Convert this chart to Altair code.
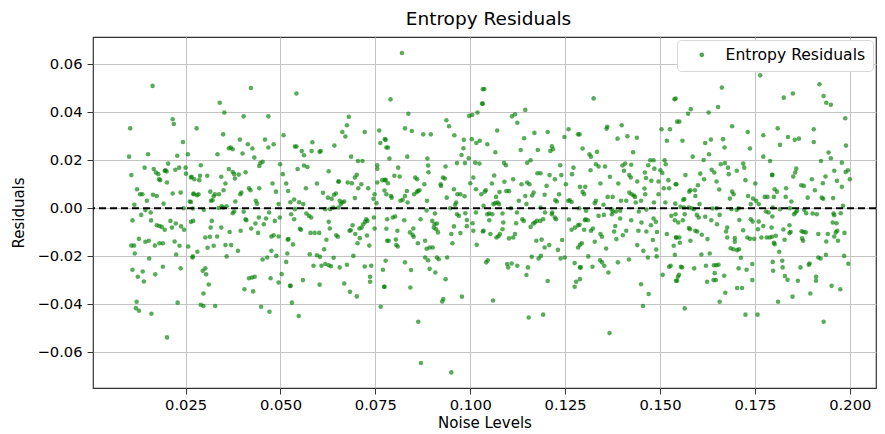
import altair as alt
import pandas as pd

# ---- data (Noise Level, Residual) ----
x_seg1 = [0.0163,0.0216,0.0219,0.0104,0.0243,0.0101,0.0151,0.0228,0.0256,0.0142,0.0166,0.0172,0.0178,0.0197,0.0204,0.0195,0.0200,0.0223,0.0233,0.0250,
          0.0107,0.0180,0.0183,0.0201,0.0251,0.0264,0.0122,0.0130,0.0136,0.0164,0.0174,0.0216,0.0237,0.0271,0.0115,0.0148,0.0192,0.0261,0.0245,0.0269,
          0.0144,0.0133,0.0158,0.0110,0.0159,0.0174,0.0181,0.0187,0.0195,0.0210,0.0214,0.0224,0.0238,0.0246,0.0264,0.0127,0.0144,0.0153,0.0169,0.0181,
          0.0190,0.0221,0.0234,0.0107,0.0114,0.0257,0.0116,0.0225,0.0268,0.0154,0.0110,0.0124,0.0137,0.0140,0.0170,0.0190,0.0237,0.0121,0.0119,0.0127,
          0.0160,0.0229,0.0201]
y_seg1 = [0.0510,0.0371,0.0351,0.0333,0.0276,0.0215,0.0225,0.0219,0.0225,0.0169,0.0163,0.0149,0.0142,0.0158,0.0186,0.0156,0.0153,0.0160,0.0169,0.0169,
          0.0138,0.0121,0.0117,0.0107,0.0144,0.0128,0.0079,0.0058,0.0058,0.0056,0.0051,0.0061,0.0065,0.0058,0.0014,0.0031,0.0019,0.0028,0.0000,-0.0001,
          -0.0008,-0.0028,-0.0018,-0.0051,-0.0051,-0.0071,-0.0074,-0.0078,-0.0090,-0.0053,-0.0081,-0.0064,-0.0076,-0.0090,-0.0057,-0.0128,-0.0140,-0.0136,-0.0156,-0.0146,
          -0.0146,-0.0139,-0.0157,-0.0156,-0.0156,-0.0160,-0.0189,-0.0193,-0.0206,-0.0210,-0.0257,-0.0286,-0.0264,-0.0306,-0.0276,-0.0244,-0.0251,-0.0390,-0.0417,-0.0428,
          -0.0440,-0.0394,-0.0539]

x_seg2 = [0.0422,0.0340,0.0352,0.0403,0.0468,0.0279,0.0349,0.0508,0.0393,0.0459,0.0414,0.0482,0.0364,0.0369,0.0374,0.0426,0.0468,0.0334,0.0400,0.0431,
          0.0447,0.0444,0.0453,0.0499,0.0290,0.0364,0.0374,0.0378,0.0390,0.0408,0.0506,0.0266,0.0273,0.0286,0.0288,0.0307,0.0344,0.0380,0.0479,0.0515,
          0.0355,0.0417,0.0421,0.0444,0.0488,0.0271,0.0280,0.0284,0.0315,0.0324,0.0327,0.0350,0.0338,0.0394,0.0397,0.0264,0.0317,0.0321,0.0381,0.0435,
          0.0438,0.0345,0.0337,0.0349,0.0358,0.0298,0.0378,0.0374,0.0403,0.0470,0.0495,0.0408,0.0410,0.0443,0.0462,0.0485,0.0270,0.0319,0.0434,0.0456,
          0.0498,0.0316,0.0344,0.0395,0.0366,0.0423,0.0441,0.0476,0.0482,0.0495,0.0519,0.0302,0.0314,0.0333,0.0355,0.0370,0.0388,0.0324,0.0308,0.0281,
          0.0269,0.0358,0.0476,0.0489,0.0465,0.0453,0.0515,0.0295,0.0302,0.0304,0.0311,0.0297,0.0417,0.0425,0.0432,0.0474,0.0503,0.0495,0.0525,0.0405,
          0.0428,0.0290,0.0297,0.0328,0.0449,0.0471]
y_seg2 = [0.0501,0.0440,0.0399,0.0383,0.0383,0.0333,0.0308,0.0304,0.0286,0.0286,0.0267,0.0267,0.0250,0.0253,0.0246,0.0249,0.0253,0.0225,0.0228,0.0211,
          0.0188,0.0176,0.0194,0.0183,0.0179,0.0163,0.0151,0.0142,0.0140,0.0150,0.0142,0.0131,0.0121,0.0117,0.0135,0.0135,0.0131,0.0124,0.0103,0.0103,
          0.0103,0.0083,0.0075,0.0083,0.0069,0.0061,0.0054,0.0058,0.0069,0.0050,0.0058,0.0075,0.0058,0.0058,0.0065,0.0026,0.0031,0.0033,0.0028,0.0031,
          0.0019,0.0008,0.0001,0.0003,0.0008,-0.0007,-0.0014,-0.0021,-0.0015,-0.0018,0.0017,-0.0046,-0.0050,-0.0039,-0.0043,-0.0053,-0.0053,-0.0053,-0.0064,-0.0067,
          -0.0039,-0.0081,-0.0081,-0.0094,-0.0099,-0.0085,-0.0103,-0.0118,-0.0113,-0.0118,-0.0131,-0.0122,-0.0119,-0.0118,-0.0154,-0.0154,-0.0178,-0.0157,-0.0165,-0.0182,
          -0.0201,-0.0201,-0.0178,-0.0199,-0.0206,-0.0214,-0.0224,-0.0261,-0.0251,-0.0276,-0.0318,-0.0356,-0.0292,-0.0289,-0.0286,-0.0292,-0.0275,-0.0310,-0.0324,-0.0338,
          -0.0347,-0.0403,-0.0408,-0.0408,-0.0411,-0.0432]

x_seg3 = [0.0542,0.0680,0.0675,0.0663,0.0671,0.0722,0.0760,0.0775,0.0763,0.0779,0.0538,0.0542,0.0556,0.0562,0.0584,0.0582,0.0603,0.0606,0.0642,0.0686,
          0.0704,0.0716,0.0755,0.0545,0.0562,0.0571,0.0627,0.0701,0.0696,0.0755,0.0755,0.0768,0.0775,0.0653,0.0653,0.0677,0.0688,0.0713,0.0596,0.0567,
          0.0705,0.0731,0.0612,0.0646,0.0641,0.0625,0.0635,0.0520,0.0536,0.0526,0.0549,0.0656,0.0663,0.0668,0.0696,0.0745,0.0748,0.0753,0.0774,0.0779,
          0.0560,0.0618,0.0631,0.0639,0.0653,0.0659,0.0538,0.0528,0.0568,0.0575,0.0581,0.0536,0.0627,0.0726,0.0729,0.0746,0.0551,0.0554,0.0630,0.0690,
          0.0682,0.0685,0.0708,0.0718,0.0723,0.0714,0.0748,0.0779,0.0579,0.0590,0.0602,0.0647,0.0651,0.0697,0.0728,0.0709,0.0621,0.0521,0.0533,0.0703,
          0.0734,0.0781,0.0615,0.0577,0.0596,0.0604,0.0587,0.0608,0.0618,0.0627,0.0633,0.0640,0.0692,0.0675,0.0656,0.0722,0.0739,0.0736,0.0736,0.0770,
          0.0773,0.0518,0.0559,0.0527,0.0603,0.0668,0.0683,0.0701,0.0530,0.0548,0.0764]
y_seg3 = [0.0478,0.0381,0.0346,0.0318,0.0299,0.0318,0.0324,0.0288,0.0272,0.0253,0.0257,0.0257,0.0238,0.0221,0.0275,0.0238,0.0235,0.0238,0.0261,0.0215,
          0.0197,0.0197,0.0179,0.0163,0.0178,0.0172,0.0154,0.0139,0.0128,0.0164,0.0107,0.0117,0.0117,0.0111,0.0111,0.0107,0.0104,0.0100,0.0103,0.0083,
          0.0083,0.0083,0.0064,0.0061,0.0056,0.0044,0.0039,0.0072,0.0036,0.0025,0.0025,0.0031,0.0025,0.0028,0.0042,0.0039,0.0058,0.0021,0.0074,0.0058,
          0.0017,-0.0004,-0.0004,0.0003,0.0003,0.0017,-0.0004,-0.0025,-0.0022,-0.0032,-0.0039,-0.0046,-0.0057,-0.0046,-0.0053,-0.0039,-0.0086,-0.0090,-0.0085,-0.0071,
          -0.0094,-0.0092,-0.0085,-0.0067,-0.0057,-0.0081,-0.0085,-0.0086,-0.0103,-0.0103,-0.0103,-0.0113,-0.0119,-0.0108,-0.0114,-0.0125,-0.0132,-0.0129,-0.0151,-0.0146,
          -0.0156,-0.0136,-0.0171,-0.0192,-0.0196,-0.0203,-0.0240,-0.0240,-0.0233,-0.0238,-0.0242,-0.0207,-0.0199,-0.0236,-0.0247,-0.0243,-0.0240,-0.0286,-0.0307,-0.0257,
          -0.0328,-0.0189,-0.0300,-0.0324,-0.0319,-0.0314,-0.0349,-0.0368,-0.0394,-0.0450,-0.0411]

x_seg4 = [0.0820,0.1033,0.0790,0.1031,0.0837,0.0937,0.0944,0.0997,0.1005,0.1019,0.0828,0.0846,0.0876,0.0896,0.0958,0.0983,0.1004,0.1016,0.1025,0.0777,
          0.0783,0.0982,0.0977,0.0834,0.0787,0.0887,0.0996,0.0889,0.0965,0.0986,0.1013,0.1024,0.0935,0.0810,0.0890,0.0800,0.0814,0.0855,0.0860,0.0928,
          0.0933,0.1008,0.0777,0.0783,0.0879,0.0922,0.0923,0.1000,0.1015,0.0957,0.0862,0.0866,0.0859,0.0852,0.0791,0.0793,0.0828,0.0833,0.0966,0.0974,
          0.0985,0.1029,0.0816,0.0822,0.0835,0.0886,0.0938,0.0963,0.0960,0.0947,0.0885,0.0907,0.0965,0.0970,0.0987,0.1015,0.0796,0.0802,0.0781,0.0826,
          0.0869,0.0900,0.0906,0.0991,0.1006,0.0912,0.0915,0.0904,0.0910,0.0991,0.0957,0.1008,0.1033,0.0808,0.0841,0.0848,0.0851,0.0850,0.0950,0.0974,
          0.0785,0.0804,0.0805,0.0809,0.0862,0.0881,0.0885,0.0893,0.0901,0.0953,0.1017,0.0881,0.0889,0.0912,0.0917,0.0939,0.0828,0.0844,0.0893,0.0908,
          0.0935,0.0842,0.0929,0.0926,0.0978,0.0774,0.0777,0.0863,0.0870,0.0950]
y_seg4 = [0.0647,0.0496,0.0454,0.0436,0.0394,0.0367,0.0342,0.0385,0.0389,0.0399,0.0333,0.0322,0.0308,0.0308,0.0304,0.0285,0.0288,0.0272,0.0281,0.0285,
          0.0253,0.0250,0.0222,0.0215,0.0207,0.0207,0.0208,0.0178,0.0188,0.0188,0.0190,0.0186,0.0174,0.0169,0.0150,0.0135,0.0132,0.0128,0.0121,0.0128,
          0.0124,0.0128,0.0118,0.0104,0.0100,0.0100,0.0093,0.0104,0.0079,0.0079,0.0072,0.0075,0.0067,0.0058,0.0051,0.0044,0.0051,0.0072,0.0058,0.0058,
          0.0050,0.0058,0.0031,0.0035,0.0024,0.0031,0.0044,0.0024,0.0014,0.0000,-0.0010,-0.0022,-0.0025,-0.0032,-0.0021,-0.0018,-0.0039,-0.0035,-0.0046,-0.0050,
          -0.0046,-0.0053,-0.0067,-0.0049,-0.0063,-0.0064,-0.0101,-0.0081,-0.0088,-0.0075,-0.0076,-0.0094,-0.0097,-0.0094,-0.0101,-0.0111,-0.0119,-0.0085,-0.0108,-0.0104,
          -0.0136,-0.0131,-0.0154,-0.0160,-0.0146,-0.0136,-0.0169,-0.0164,-0.0164,-0.0146,-0.0153,-0.0206,-0.0217,-0.0206,-0.0213,-0.0206,-0.0226,-0.0258,-0.0253,-0.0268,
          -0.0296,-0.0331,-0.0379,-0.0389,-0.0369,-0.0328,-0.0219,-0.0474,-0.0646,-0.0685]

x_seg5 = [0.1037,0.1033,0.1110,0.1118,0.1124,0.1145,0.1071,0.1169,0.1204,0.1259,0.1248,0.1284,0.1142,0.1045,0.1066,0.1133,0.1178,0.1215,0.1218,0.1211,
          0.1159,0.1150,0.1089,0.1094,0.1237,0.1272,0.1177,0.1185,0.1063,0.1090,0.1113,0.1135,0.1150,0.1156,0.1209,0.1223,0.1240,0.1268,0.1057,0.1041,
          0.1038,0.1201,0.1252,0.1289,0.1077,0.1068,0.1095,0.1102,0.1167,0.1163,0.1128,0.1145,0.1196,0.1234,0.1228,0.1224,0.1258,0.1267,0.1262,0.1061,
          0.1066,0.1072,0.1076,0.1035,0.1107,0.1148,0.1185,0.1050,0.1058,0.1045,0.1085,0.1123,0.1197,0.1216,0.1215,0.1223,0.1226,0.1137,0.1141,0.1050,
          0.1087,0.1121,0.1166,0.1170,0.1175,0.1184,0.1159,0.1192,0.1260,0.1276,0.1284,0.1267,0.1085,0.1078,0.1069,0.1074,0.1035,0.1053,0.1102,0.1113,
          0.1118,0.1174,0.1188,0.1208,0.1196,0.1242,0.1231,0.1284,0.1162,0.1186,0.1180,0.1238,0.1249,0.1046,0.1042,0.1097,0.1100,0.1109,0.1124,0.1152,
          0.1148,0.1204,0.1275,0.1289,0.1279,0.1275,0.1060,0.1154,0.1192]
y_seg5 = [0.0497,0.0436,0.0383,0.0392,0.0356,0.0410,0.0324,0.0314,0.0318,0.0329,0.0297,0.0308,0.0292,0.0267,0.0233,0.0243,0.0243,0.0258,0.0246,0.0239,
          0.0200,0.0189,0.0189,0.0179,0.0179,0.0169,0.0146,0.0146,0.0136,0.0110,0.0121,0.0100,0.0107,0.0100,0.0138,0.0121,0.0138,0.0142,0.0103,0.0075,
          0.0069,0.0093,0.0100,0.0089,0.0067,0.0047,0.0072,0.0071,0.0065,0.0053,0.0031,0.0051,0.0056,0.0058,0.0028,0.0033,0.0031,0.0026,0.0033,0.0017,
          0.0021,0.0024,0.0017,0.0010,0.0000,0.0017,0.0003,-0.0022,-0.0025,-0.0025,-0.0022,-0.0018,-0.0018,-0.0018,-0.0025,-0.0039,-0.0046,-0.0046,-0.0053,-0.0050,
          -0.0060,-0.0063,-0.0064,-0.0060,-0.0053,-0.0053,-0.0078,-0.0046,-0.0047,-0.0081,-0.0071,-0.0090,-0.0088,-0.0108,-0.0122,-0.0117,-0.0094,-0.0108,-0.0126,-0.0122,
          -0.0108,-0.0136,-0.0131,-0.0154,-0.0164,-0.0133,-0.0174,-0.0164,-0.0203,-0.0199,-0.0210,-0.0210,-0.0206,-0.0217,-0.0226,-0.0233,-0.0247,-0.0231,-0.0240,-0.0247,
          -0.0279,-0.0304,-0.0229,-0.0247,-0.0307,-0.0328,-0.0385,-0.0456,-0.0444]

x_seg6 = [0.1325,0.1538,0.1359,0.1361,0.1399,0.1388,0.1414,0.1439,0.1504,0.1526,0.1518,0.1545,0.1288,0.1296,0.1314,0.1318,0.1334,0.1429,0.1331,0.1338,
          0.1355,0.1401,0.1408,0.1424,0.1474,0.1483,0.1512,0.1515,0.1469,0.1317,0.1405,0.1485,0.1501,0.1506,0.1368,0.1419,0.1423,0.1440,0.1460,0.1463,
          0.1477,0.1496,0.1522,0.1541,0.1343,0.1390,0.1303,0.1296,0.1300,0.1419,0.1425,0.1431,0.1434,0.1362,0.1375,0.1459,0.1461,0.1496,0.1510,0.1524,
          0.1331,0.1328,0.1351,0.1397,0.1411,0.1436,0.1450,0.1484,0.1514,0.1540,0.1287,0.1372,0.1376,0.1384,0.1395,0.1305,0.1310,0.1338,0.1352,0.1444,
          0.1464,0.1530,0.1483,0.1489,0.1373,0.1395,0.1302,0.1304,0.1288,0.1382,0.1424,0.1451,0.1539,0.1300,0.1318,0.1323,0.1379,0.1411,0.1443,0.1464,
          0.1476,0.1492,0.1518,0.1343,0.1347,0.1402,0.1385,0.1481,0.1543,0.1294,0.1289,0.1328,0.1358,0.1440,0.1456,0.1490,0.1536,0.1539,0.1311,0.1418,
          0.1468,0.1491,0.1342,0.1347,0.1353,0.1322,0.1389,0.1291,0.1364,0.1289,0.1524,0.1528,0.1507,0.1547,0.1542,0.1450,0.1470,0.1455,0.1367]
y_seg6 = [0.0458,0.0454,0.0332,0.0340,0.0346,0.0290,0.0300,0.0294,0.0329,0.0329,0.0281,0.0361,0.0308,0.0249,0.0225,0.0215,0.0235,0.0233,0.0183,0.0174,
          0.0174,0.0178,0.0186,0.0181,0.0200,0.0200,0.0200,0.0183,0.0179,0.0158,0.0156,0.0165,0.0158,0.0147,0.0131,0.0138,0.0128,0.0111,0.0149,0.0126,
          0.0114,0.0111,0.0117,0.0100,0.0103,0.0103,0.0089,0.0068,0.0058,0.0065,0.0058,0.0053,0.0047,0.0047,0.0047,0.0082,0.0058,0.0058,0.0083,0.0083,
          0.0031,0.0021,0.0014,0.0031,0.0031,0.0024,0.0031,0.0024,0.0024,0.0019,0.0000,-0.0004,-0.0014,-0.0014,-0.0011,-0.0011,-0.0050,-0.0032,-0.0028,-0.0014,
          -0.0006,-0.0032,-0.0043,-0.0057,-0.0025,-0.0043,-0.0050,-0.0046,-0.0069,-0.0074,-0.0050,-0.0060,-0.0050,-0.0090,-0.0094,-0.0085,-0.0097,-0.0094,-0.0094,-0.0097,
          -0.0071,-0.0099,-0.0108,-0.0108,-0.0119,-0.0113,-0.0129,-0.0133,-0.0122,-0.0146,-0.0153,-0.0140,-0.0168,-0.0154,-0.0178,-0.0172,-0.0157,-0.0194,-0.0201,-0.0214,
          -0.0206,-0.0201,-0.0217,-0.0226,-0.0240,-0.0244,-0.0226,-0.0247,-0.0268,-0.0296,-0.0244,-0.0240,-0.0278,-0.0286,-0.0303,-0.0317,-0.0358,-0.0408,-0.0521]

x_seg7 = [0.1764,0.1663,0.1541,0.1581,0.1574,0.1628,0.1653,0.1551,0.1690,0.1731,0.1772,0.1559,0.1619,0.1634,0.1666,0.1670,0.1737,0.1586,0.1629,0.1772,
          0.1615,0.1660,0.1671,0.1679,0.1719,0.1790,0.1606,0.1636,0.1643,0.1702,0.1722,0.1567,0.1616,0.1649,0.1681,0.1725,0.1751,0.1795,0.1543,0.1600,
          0.1592,0.1577,0.1580,0.1656,0.1690,0.1694,0.1684,0.1732,0.1745,0.1753,0.1776,0.1783,0.1564,0.1561,0.1593,0.1604,0.1739,0.1760,0.1800,0.1554,
          0.1563,0.1576,0.1583,0.1589,0.1638,0.1649,0.1688,0.1702,0.1707,0.1779,0.1786,0.1541,0.1565,0.1560,0.1597,0.1602,0.1619,0.1635,0.1657,0.1548,
          0.1650,0.1709,0.1739,0.1744,0.1760,0.1772,0.1794,0.1576,0.1579,0.1593,0.1598,0.1677,0.1674,0.1719,0.1758,0.1542,0.1551,0.1610,0.1625,0.1677,
          0.1697,0.1737,0.1748,0.1767,0.1781,0.1789,0.1795,0.1800,0.1730,0.1580,0.1552,0.1686,0.1693,0.1697,0.1703,0.1708,0.1609,0.1631,0.1743,0.1713,
          0.1797,0.1555,0.1558,0.1590,0.1621,0.1642,0.1648,0.1654,0.1728,0.1707,0.1550,0.1545,0.1644,0.1669,0.1624,0.1641,0.1647,0.1743,0.1703,0.1716,
          0.1672,0.1657,0.1565,0.1725,0.1757]
y_seg7 = [0.0554,0.0503,0.0457,0.0413,0.0394,0.0399,0.0422,0.0361,0.0342,0.0318,0.0304,0.0281,0.0272,0.0286,0.0288,0.0253,0.0249,0.0215,0.0225,0.0215,
          0.0201,0.0183,0.0188,0.0169,0.0186,0.0197,0.0144,0.0160,0.0149,0.0156,0.0169,0.0138,0.0121,0.0111,0.0142,0.0117,0.0103,0.0138,0.0100,0.0096,
          0.0075,0.0069,0.0075,0.0078,0.0069,0.0058,0.0040,0.0051,0.0040,0.0031,0.0047,0.0047,0.0038,0.0035,0.0051,0.0017,0.0017,0.0017,0.0047,0.0006,
          0.0003,0.0003,0.0000,-0.0004,-0.0001,0.0000,-0.0004,-0.0007,0.0000,-0.0014,-0.0018,-0.0025,-0.0025,-0.0050,-0.0028,-0.0039,-0.0036,-0.0050,-0.0028,-0.0060,
          -0.0067,-0.0049,-0.0046,-0.0056,-0.0056,-0.0074,-0.0081,-0.0083,-0.0088,-0.0094,-0.0097,-0.0081,-0.0097,-0.0092,-0.0088,-0.0122,-0.0122,-0.0111,-0.0129,-0.0122,
          -0.0125,-0.0128,-0.0128,-0.0122,-0.0122,-0.0122,-0.0119,-0.0144,-0.0122,-0.0136,-0.0144,-0.0167,-0.0171,-0.0140,-0.0175,-0.0171,-0.0193,-0.0189,-0.0233,-0.0207,
          -0.0224,-0.0244,-0.0247,-0.0251,-0.0240,-0.0238,-0.0238,-0.0236,-0.0257,-0.0251,-0.0278,-0.0303,-0.0271,-0.0282,-0.0307,-0.0300,-0.0300,-0.0300,-0.0333,-0.0333,
          -0.0353,-0.0390,-0.0418,-0.0444,-0.0444]

x_seg8 = [0.1920,0.1931,0.1938,0.1950,0.1850,0.1826,0.1988,0.1810,0.1905,0.1837,0.1855,0.1866,0.1905,0.1816,0.1990,0.1944,0.1950,0.1924,0.1979,0.1859,
          0.1856,0.1851,0.1959,0.1989,0.1995,0.1796,0.1936,0.1900,0.2000,0.1872,0.1879,0.1929,0.1966,0.1832,0.1802,0.1808,0.1908,0.1979,0.1831,0.1889,
          0.1926,0.1930,0.1846,0.1956,0.1982,0.1797,0.1816,0.1842,0.1861,0.1853,0.1857,0.1880,0.1885,0.1902,0.1913,0.1957,0.1959,0.1976,0.1796,0.1955,
          0.1965,0.1841,0.1825,0.1873,0.1878,0.1884,0.1841,0.1844,0.1917,0.1942,0.1963,0.1967,0.1986,0.1805,0.1828,0.1874,0.1877,0.1938,0.1959,0.1969,
          0.1802,0.1814,0.1917,0.1923,0.1937,0.1985,0.1996,0.1822,0.1823,0.1870,0.1892,0.1894,0.1798,0.1829,0.1836,0.1863,0.1911,0.1911,0.1952,0.1975,
          0.1896,0.1849,0.1811,0.1931]
y_seg8 = [0.0517,0.0468,0.0440,0.0431,0.0478,0.0461,0.0375,0.0333,0.0329,0.0297,0.0285,0.0290,0.0276,0.0264,0.0261,0.0232,0.0208,0.0197,0.0190,0.0165,
          0.0149,0.0132,0.0156,0.0151,0.0158,0.0139,0.0132,0.0121,0.0121,0.0096,0.0093,0.0104,0.0114,0.0083,0.0079,0.0069,0.0075,0.0089,0.0047,0.0044,
          0.0044,0.0039,0.0028,0.0042,0.0010,0.0003,-0.0004,0.0000,-0.0011,-0.0025,-0.0018,-0.0007,-0.0021,-0.0022,-0.0025,-0.0022,-0.0029,-0.0021,-0.0035,-0.0060,
          -0.0063,-0.0071,-0.0089,-0.0096,-0.0099,-0.0101,-0.0104,-0.0099,-0.0108,-0.0108,-0.0101,-0.0094,-0.0103,-0.0115,-0.0132,-0.0126,-0.0136,-0.0139,-0.0118,-0.0136,
          -0.0150,-0.0182,-0.0206,-0.0210,-0.0194,-0.0199,-0.0232,-0.0219,-0.0247,-0.0247,-0.0236,-0.0231,-0.0261,-0.0283,-0.0299,-0.0303,-0.0286,-0.0303,-0.0324,-0.0338,
          -0.0356,-0.0369,-0.0390,-0.0474]

x_ticks = [0.025, 0.050, 0.075, 0.100, 0.125, 0.150, 0.175, 0.200]
y_ticks = [-0.06, -0.04, -0.02, 0.00, 0.02, 0.04, 0.06]
series_name = "Entropy Residuals"

xs = x_seg1 + x_seg2 + x_seg3 + x_seg4 + x_seg5 + x_seg6 + x_seg7 + x_seg8
ys = y_seg1 + y_seg2 + y_seg3 + y_seg4 + y_seg5 + y_seg6 + y_seg7 + y_seg8
n = min(len(xs), len(ys))
df = pd.DataFrame({"noise": xs[:n], "resid": ys[:n], "series": [series_name] * n})

FONT = "DejaVu Sans"
x_scale = alt.Scale(domain=[0.0006, 0.2069], nice=False, zero=False)
y_scale = alt.Scale(domain=[-0.0750, 0.0714], nice=False, zero=False)

points = alt.Chart(df).mark_circle(size=21, opacity=0.65).encode(
    x=alt.X("noise:Q", scale=x_scale,
            axis=alt.Axis(title="Noise Levels", values=x_ticks, format=".3f")),
    y=alt.Y("resid:Q", scale=y_scale,
            axis=alt.Axis(title="Residuals", values=y_ticks, format=".2f")),
    color=alt.Color("series:N", scale=alt.Scale(range=["#008000"]),
                    legend=alt.Legend(title=None, orient="top-right", offset=3,
                                      fillColor="white", strokeColor="#d8d8d8",
                                      cornerRadius=4, padding=7,
                                      labelFont=FONT, labelFontSize=15.6,
                                      labelColor="black", labelOffset=16,
                                      symbolType="circle", symbolSize=22,
                                      symbolOpacity=0.7, symbolOffset=10)),
)

zero_line = alt.Chart(pd.DataFrame({"y0": [0.0]})).mark_rule(
    color="black", strokeWidth=2, strokeDash=[7, 4]
).encode(y=alt.Y("y0:Q", scale=y_scale))

chart = alt.layer(points, zero_line).properties(
    width=783, height=351,
    title=alt.TitleParams("Entropy Residuals", font=FONT, fontSize=18.5,
                          fontWeight="normal", color="black", offset=9, dx=4),
    autosize=alt.AutoSizeParams(type="none"),
    padding={"left": 85, "top": 29, "right": 1, "bottom": 46},
).configure_view(
    stroke="#333333", strokeWidth=1.2
).configure_axis(
    domain=False, grid=True, gridColor="#c4c4c4", gridWidth=1,
    tickColor="#333333", tickSize=6, tickWidth=1,
    labelFont=FONT, labelFontSize=14.7, labelColor="black", labelPadding=3,
    titleFont=FONT, titleFontSize=15, titleFontWeight="normal", titleColor="black",
).configure_axisY(
    titlePadding=10, labelPadding=5
).configure_axisX(
    titlePadding=4
)

chart.save("out.html", embed_options={"renderer": "svg", "actions": False})
